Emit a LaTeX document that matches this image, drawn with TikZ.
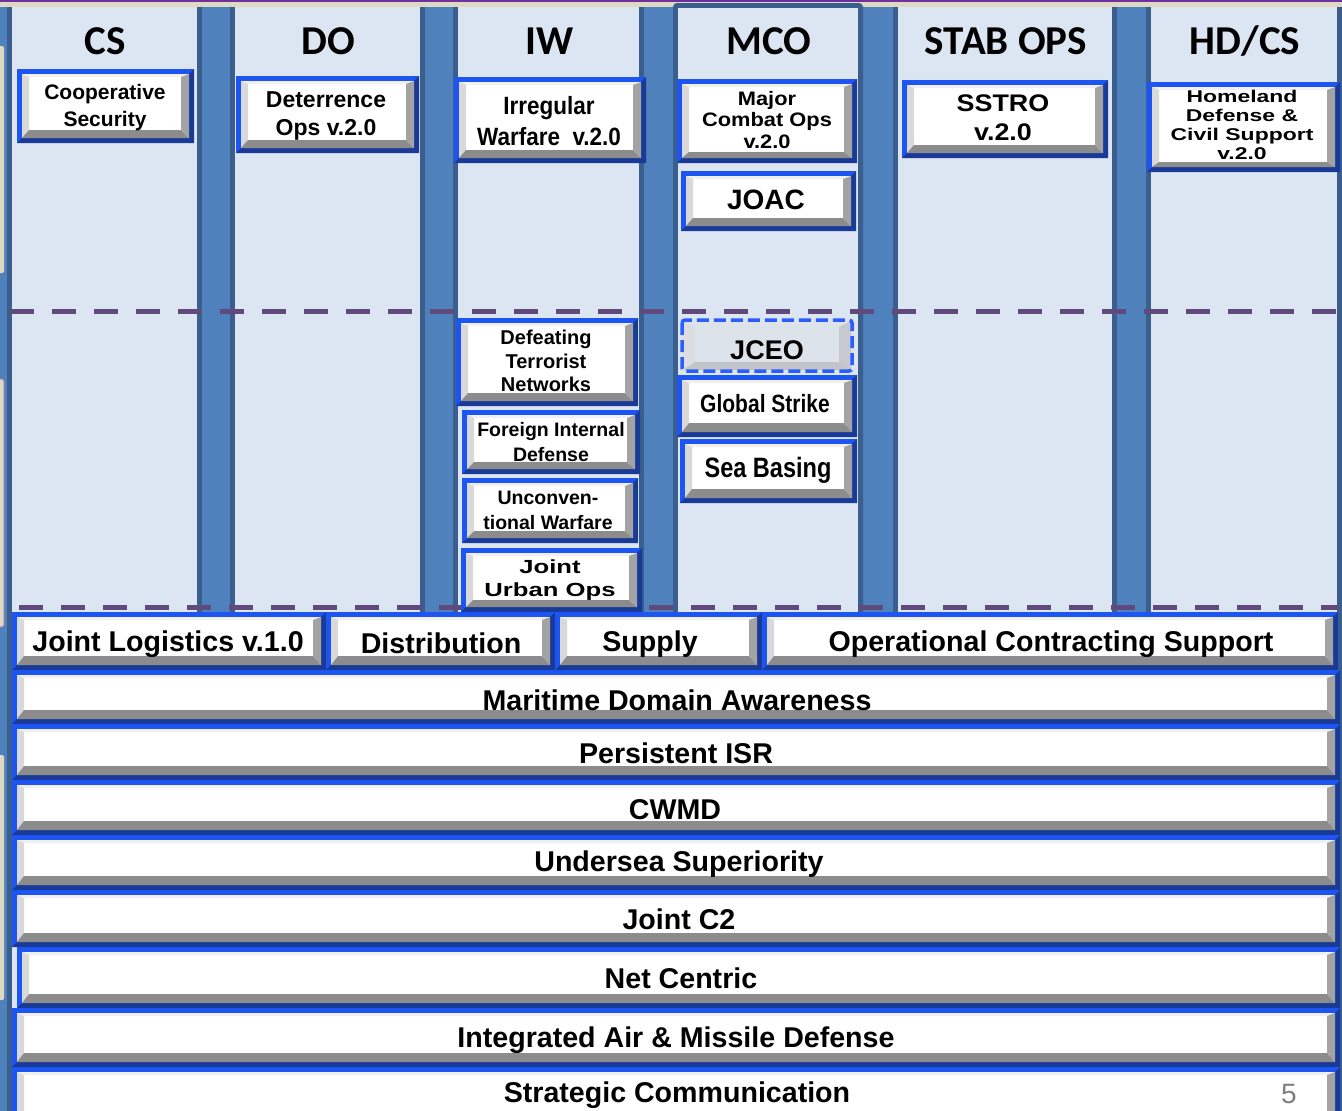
\documentclass[tikz,border=0pt]{standalone}
\usepackage{fontspec}
\setmainfont{Liberation Sans}
\newfontfamily\hdrfont{Carlito}
\newfontfamily\narrowfont{Liberation Sans}[FakeStretch=0.84]
\newfontfamily\narrowbfont{Liberation Sans}[FakeStretch=0.9]
\newfontfamily\widefont{Liberation Sans}[FakeStretch=1.35]
\newfontfamily\wideafont{Liberation Sans}[FakeStretch=1.12]
\definecolor{colbg}{HTML}{DCE6F2}
\definecolor{sepblue}{HTML}{4F81BD}
\definecolor{sepdark}{HTML}{3A5F8E}
\definecolor{beige}{HTML}{DDD9C3}
\definecolor{toppurple}{HTML}{7030A0}
\definecolor{dashpurple}{HTML}{604A7B}
\definecolor{bbright}{HTML}{1D55F2}
\definecolor{bbdark}{HTML}{1A3A98}
\definecolor{bvtop}{HTML}{F0F0F0}
\definecolor{bvleft}{HTML}{D9D9D9}
\definecolor{bvbot}{HTML}{8C8C8C}
\definecolor{bvright}{HTML}{A3A3A3}
\definecolor{jceofill}{HTML}{DDE3EB}
\definecolor{jceoborder}{HTML}{2B5DFF}
\definecolor{pagenum}{HTML}{7F7F7F}
% #1..#4: corners, #5: depth of the bottom bevel
\newcommand{\bbtn}[5]{%
  \fill[bbright] (#1,#2) rectangle (#3,#4);
  \fill[bbdark] (#1,#4) -- (#3,#4) -- (#3,#2) -- ({#3-5},{#2+5}) -- ({#3-5},{#4-5}) -- ({#1+5},{#4-5}) -- cycle;
  \fill[white] ({#1+5},{#2+5}) rectangle ({#3-5},{#4-5});
  \fill[bvtop] ({#1+5},{#2+5}) -- ({#3-5},{#2+5}) -- ({#3-13},{#2+8}) -- ({#1+12},{#2+8}) -- cycle;
  \fill[bvleft] ({#1+5},{#2+5}) -- ({#1+12},{#2+8}) -- ({#1+12},{#4-5-#5}) -- ({#1+5},{#4-5}) -- cycle;
  \fill[bvbot] ({#1+5},{#4-5}) -- ({#1+12},{#4-5-#5}) -- ({#3-13},{#4-5-#5}) -- ({#3-5},{#4-5}) -- cycle;
  \fill[bvright] ({#3-5},{#2+5}) -- ({#3-13},{#2+8}) -- ({#3-13},{#4-5-#5}) -- ({#3-5},{#4-5}) -- cycle;
}
\newcommand{\colpanel}[2]{%
  \fill[sepdark] ({#1-5},7) rectangle ({#2+5},1111);
  \fill[colbg] (#1,7) rectangle (#2,1111);
}
\tikzset{
  hdr/.style={font=\hdrfont\bfseries\fontsize{41}{43}\selectfont, inner sep=0pt, anchor=center},
  btxt/.style={inner sep=0pt, align=center, anchor=center},
  bar/.style={inner sep=0pt, anchor=center, font=\bfseries\fontsize{28.6}{30}\selectfont},
  dashline/.style={dashpurple, line width=5pt, dash pattern=on 24pt off 18pt}
}
\begin{document}
\begin{tikzpicture}[x=1pt,y=-1pt]
\useasboundingbox (0,0) rectangle (1342,1111);
\clip (0,0) rectangle (1342,1111);
% background
\fill[sepblue] (0,0) rectangle (1342,1111);
\fill[beige] (0,0) rectangle (1342,7);
\fill[toppurple] (0,0) rectangle (1342,1.5);
\fill[beige, rounded corners=1.5pt] (-2,46) rectangle (4,273);
\fill[beige, draw=toppurple!70, line width=0.8pt, rounded corners=1.5pt] (-2,379) rectangle (4,627);
\fill[beige, rounded corners=1.5pt] (-2,755) rectangle (4,1000);
% columns
\colpanel{12}{197}
\colpanel{235}{420}
\colpanel{458}{639}
\colpanel{898}{1112}
\colpanel{1151}{1337}
\fill[sepdark, rounded corners=4pt] (673,3) rectangle (863,1115);
\fill[colbg] (678,8) rectangle (858,1111);
% headers
\node[hdr] (hcs) at (105,41) {CS};
\node[hdr] (hdo) at (328,41) {DO};
\node[hdr] (hiw) at (550,41) {IW};
\node[hdr] (hmco) at (769,41) {MCO};
\node[hdr] (hstab) at (1006,41) {STAB OPS};
\node[hdr] (hhd) at (1245,41) {HD/CS};
% dashed lines
\draw[dashline] (10,311) -- (1338,311);
\draw[dashline] (19,607) -- (1338,607);
% top boxes
\bbtn{17}{69}{194}{143}{8}
\node[btxt, font=\bfseries\fontsize{21}{27}\selectfont] (coop) at (105,108) {Cooperative\\Security};
\bbtn{236}{76}{419}{153}{8}
\node[btxt, font=\bfseries\fontsize{23}{28}\selectfont] (deter) at (326,116) {Deterrence\\Ops v.2.0};
\bbtn{454}{77}{646}{163}{8}
\node[btxt, font=\narrowbfont\bfseries\fontsize{25}{31}\selectfont] (irreg) at (549,121) {Irregular\\Warfare~~v.2.0};
\bbtn{677}{79}{857}{163}{6}
\node[btxt, font=\wideafont\bfseries\fontsize{19.5}{21.5}\selectfont] (mco) at (767,120) {Major\\Combat Ops\\v.2.0};
\bbtn{681}{171}{856}{231}{8}
\node[btxt, font=\bfseries\fontsize{28}{30}\selectfont] (joac) at (766,200) {JOAC};
\bbtn{902}{80}{1108}{158}{8}
\node[btxt, font=\wideafont\bfseries\fontsize{24}{29}\selectfont] (sstro) at (1003,118) {SSTRO\\v.2.0};
\bbtn{1147}{82}{1340}{172}{5}
\node[btxt, font=\widefont\bfseries\fontsize{17}{19}\selectfont] (hd) at (1242,125) {Homeland\\Defense \&\\Civil Support\\v.2.0};
% IW middle boxes
\bbtn{456}{318}{638}{406}{8}
\node[btxt, font=\bfseries\fontsize{20}{23.5}\selectfont] (dtn) at (546,361) {Defeating\\Terrorist\\Networks};
\bbtn{462}{410}{640}{474}{7}
\node[btxt, font=\bfseries\fontsize{19.5}{25}\selectfont] (fid) at (551,442) {Foreign Internal\\Defense};
\bbtn{462}{478}{638}{543}{7}
\node[btxt, font=\bfseries\fontsize{19.5}{25}\selectfont] (uw) at (548,510) {Unconven-\\tional Warfare};
\bbtn{461}{548}{642}{612}{7}
\node[btxt, font=\widefont\bfseries\fontsize{19}{23}\selectfont] (juo) at (550,580) {Joint\\Urban Ops};
% MCO middle boxes
\fill[jceofill] (680,318) rectangle (854,373);
\fill[bvleft!60!jceofill] (683,321) -- (695,327) -- (695,362) -- (683,370) -- cycle;
\fill[bvright!40!jceofill] (851,321) -- (839,327) -- (839,362) -- (851,370) -- cycle;
\fill[bvbot!35!jceofill] (683,370) -- (695,362) -- (839,362) -- (851,370) -- cycle;
\draw[jceoborder, line width=3.5pt, dash pattern=on 12pt off 5pt, rounded corners=3pt] (682,320) rectangle (852,371);
\node[btxt, font=\bfseries\fontsize{27}{30}\selectfont] (jceo) at (767,350) {JCEO};
\bbtn{677}{375}{857}{437}{9}
\node[btxt, font=\narrowfont\bfseries\fontsize{25}{28}\selectfont] (gs) at (765,404) {Global Strike};
\bbtn{680}{439}{857}{503}{9}
\node[btxt, font=\narrowfont\bfseries\fontsize{28}{30}\selectfont] (sb) at (768,470) {Sea Basing};
% bottom bars
\bbtn{12}{612}{326}{670}{9}
\node[bar] (jl) at (168,644) {Joint Logistics v.1.0};
\bbtn{326}{612}{555}{670}{9}
\node[bar] (dist) at (441,643) {Distribution};
\bbtn{555}{612}{762}{670}{9}
\node[bar] (sup) at (650,644) {Supply};
\bbtn{762}{612}{1338}{670}{9}
\node[bar] (ocs) at (1051,644) {Operational Contracting Support};
\bbtn{12}{670}{1340}{724}{9}
\node[bar] (mda) at (677,700) {Maritime Domain Awareness};
\bbtn{12}{724}{1340}{780}{9}
\node[bar] (isr) at (676,753) {Persistent ISR};
\bbtn{12}{780}{1340}{835}{9}
\node[bar] (cwmd) at (675,810) {CWMD};
\bbtn{12}{835}{1340}{890}{9}
\node[bar] (usw) at (679,864) {Undersea Superiority};
\bbtn{12}{890}{1340}{947}{9}
\node[bar] (jc2) at (679,919) {Joint C2};
\bbtn{17}{947}{1340}{1008}{9}
\node[bar] (nc) at (681,978) {Net Centric};
\bbtn{12}{1008}{1340}{1067}{9}
\node[bar] (iamd) at (676,1040) {Integrated Air \& Missile Defense};
\bbtn{12}{1067}{1340}{1126}{9}
\node[bar] (sc) at (677,1095) {Strategic Communication};
\node[inner sep=0pt, anchor=center, text=pagenum, font=\fontsize{28}{30}\selectfont] (pg) at (1289,1094) {5};
\end{tikzpicture}
\end{document}
